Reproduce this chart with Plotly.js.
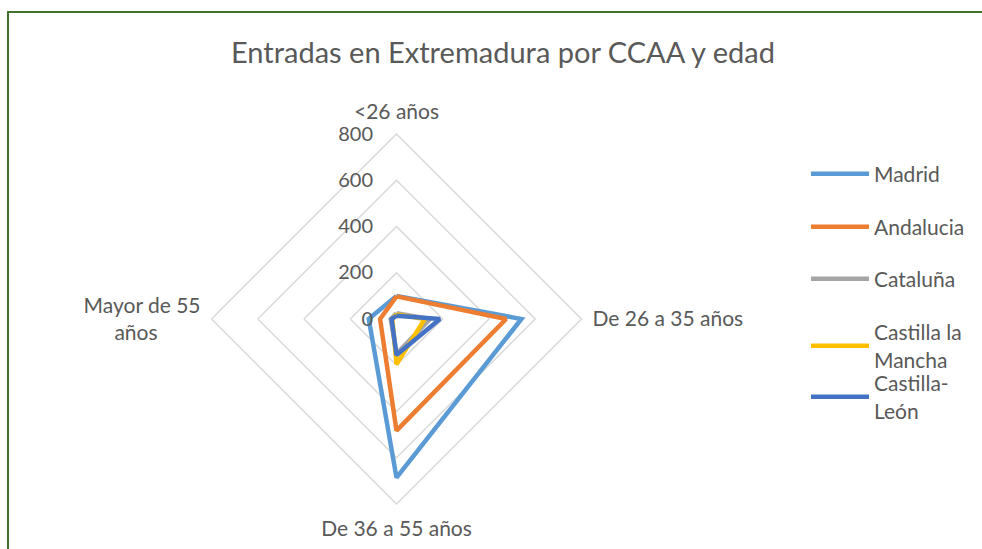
<!DOCTYPE html>
<html>
<head>
<meta charset="utf-8">
<script src="https://cdn.plot.ly/plotly-3.0.1.min.js"></script>
<style>
html,body{margin:0;padding:0;background:#fff;}
#chart{width:982px;height:549px;}
</style>
</head>
<body>
<div id="chart"></div>
<script>
const NB = "\u00a0";
const categories = ["<26 años", "De 26 a 35 años", "De 36 a 55 años", "Mayor de 55<br>años" + NB.repeat(8)];
const seriesNames = ["Madrid", "Andalucia", "Cataluña", "Castilla la<br>Mancha", "Castilla-<br>León"];
const madrid = [100, 540, 686, 120];
const andalucia = [98, 474, 483, 71];
const cataluna = [25, 145, 150, 25];
const castillaLaMancha = [20, 122, 196, 18];
const castillaLeon = [14, 188, 156, 21];
const radialTicks = [0, 200, 400, 600, 800];

const seriesValues = [madrid, andalucia, cataluna, castillaLaMancha, castillaLeon];
const colors = ["#5B9BD5", "#ED7D31", "#A5A5A5", "#FFC000", "#4472C4"];
const legendIds = ["legend", "legend2", "legend3", "legend4", "legend5"];
const legendY = [174, 227, 279, 346, 397];

const FONT = "Lato, 'Open Sans', sans-serif";
const TXT = "#595959";

const traces = seriesValues.map((vals, i) => ({
  type: "scatterpolar",
  mode: "lines",
  name: seriesNames[i],
  r: vals.concat([vals[0]]),
  theta: categories.concat([categories[0]]),
  line: {color: colors[i], width: 4.5},
  legend: legendIds[i],
  showlegend: true,
  hoverinfo: "skip"
}));

const layout = {
  width: 982,
  height: 549,
  showlegend: true,
  margin: {l: 0, r: 0, t: 0, b: 0},
  paper_bgcolor: "#ffffff",
  font: {family: FONT, color: TXT, size: 21},
  title: {
    text: "Entradas en Extremadura por CCAA y edad",
    font: {family: FONT, size: 29, color: TXT},
    x: 503 / 982, xanchor: "center", xref: "paper",
    y: 1 - 53 / 549, yanchor: "middle", yref: "paper"
  },
  polar: {
    domain: {x: [211.5 / 982, 581.5 / 982], y: [1 - 504 / 549, 1 - 134 / 549]},
    gridshape: "linear",
    bgcolor: "rgba(0,0,0,0)",
    radialaxis: {
      range: [0, 800],
      tickvals: radialTicks,
      ticktext: radialTicks.map(String),
      angle: 90,
      side: "counterclockwise",
      tickangle: 90,
      showline: false,
      ticks: "outside",
      ticklen: 16,
      tickcolor: "rgba(0,0,0,0)",
      showgrid: true,
      gridcolor: "#D9D9D9",
      gridwidth: 1.5,
      tickfont: {family: FONT, size: 20, color: TXT}
    },
    angularaxis: {
      type: "category",
      categoryarray: categories,
      rotation: 90,
      direction: "clockwise",
      showgrid: false,
      showline: true,
      linecolor: "#D9D9D9",
      linewidth: 1.5,
      ticks: "outside",
      ticklen: 6,
      tickcolor: "rgba(0,0,0,0)",
      tickfont: {family: FONT, size: 21, color: TXT}
    }
  },
  shapes: [{
    type: "rect", xref: "paper", yref: "paper",
    x0: 8 / 982, x1: 1.05, y0: -0.05, y1: 1 - 12 / 549,
    line: {color: "#43712E", width: 2}, fillcolor: "rgba(0,0,0,0)"
  }]
};

legendIds.forEach((id, i) => {
  layout[id] = {
    x: 806 / 982, xanchor: "left",
    y: 1 - legendY[i] / 549, yanchor: "middle",
    bgcolor: "rgba(0,0,0,0)",
    itemwidth: 58,
    font: {family: FONT, size: 21, color: TXT}
  };
});

Plotly.newPlot("chart", traces, layout, {displayModeBar: false, staticPlot: true});
</script>
</body>
</html>
